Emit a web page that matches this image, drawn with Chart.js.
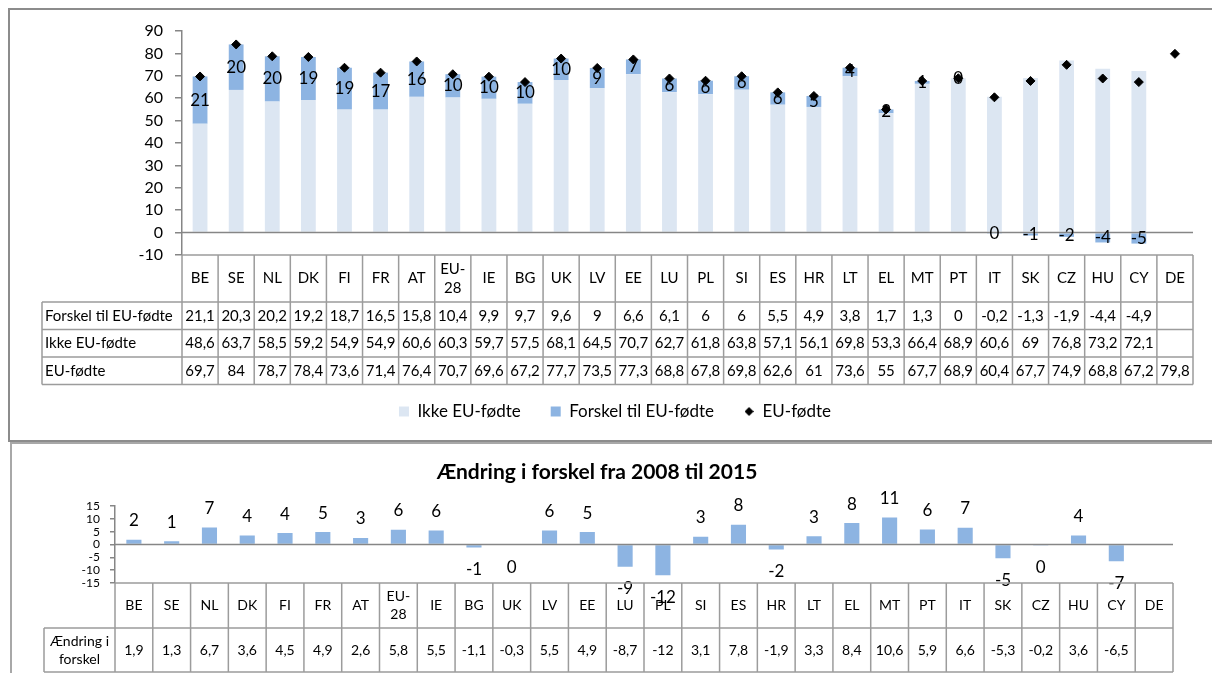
<!DOCTYPE html>
<html lang="da">
<head>
<meta charset="utf-8">
<title>EU-fødte og ikke EU-fødte</title>
<script src="https://cdn.jsdelivr.net/npm/chart.js@4.4.1/dist/chart.umd.min.js"></script>
<style>
  html, body { margin: 0; padding: 0; background: #fff; overflow: hidden; }
  body { width: 1212px; height: 673px; position: relative; }
  .panel { position: absolute; box-sizing: border-box; }
  #panel1 { left: 8px; top: 8px; width: 1220px; height: 434px; border: 2px solid #8c8c8c; }
  #panel2 { left: 10px; top: 442px; width: 1220px; height: 260px; border: 2px solid #a8a8a8; }
  .wrap { position: absolute; left: 0; width: 1212px; }
  #wrap1 { top: 0; height: 441px; }
  #wrap2 { top: 441px; height: 232px; }
</style>
</head>
<body>
<div class="panel" id="panel1"></div>
<div class="panel" id="panel2"></div>
<div class="wrap" id="wrap1"><canvas id="topChart"></canvas></div>
<div class="wrap" id="wrap2"><canvas id="bundChart"></canvas></div>

<script>
// data
const categories = ['BE', 'SE', 'NL', 'DK', 'FI', 'FR', 'AT', 'EU-28', 'IE', 'BG', 'UK', 'LV', 'EE', 'LU',
  'PL', 'SI', 'ES', 'HR', 'LT', 'EL', 'MT', 'PT', 'IT', 'SK', 'CZ', 'HU', 'CY', 'DE'];
const forskel = [21.1, 20.3, 20.2, 19.2, 18.7, 16.5, 15.8, 10.4, 9.9, 9.7, 9.6, 9, 6.6, 6.1,
  6, 6, 5.5, 4.9, 3.8, 1.7, 1.3, 0, -0.2, -1.3, -1.9, -4.4, -4.9, null];
const ikkeEU = [48.6, 63.7, 58.5, 59.2, 54.9, 54.9, 60.6, 60.3, 59.7, 57.5, 68.1, 64.5, 70.7, 62.7,
  61.8, 63.8, 57.1, 56.1, 69.8, 53.3, 66.4, 68.9, 60.6, 69, 76.8, 73.2, 72.1, null];
const euFodte = [69.7, 84, 78.7, 78.4, 73.6, 71.4, 76.4, 70.7, 69.6, 67.2, 77.7, 73.5, 77.3, 68.8,
  67.8, 69.8, 62.6, 61, 73.6, 55, 67.7, 68.9, 60.4, 67.7, 74.9, 68.8, 67.2, 79.8];
const aendring = [1.9, 1.3, 6.7, 3.6, 4.5, 4.9, 2.6, 5.8, 5.5, -1.1, -0.3, 5.5, 4.9, -8.7,
  -12, 3.1, 7.8, -1.9, 3.3, 8.4, 10.6, 5.9, 6.6, -5.3, -0.2, 3.6, -6.5, null];
// etiketterne som de står på søjlerne (afrundet af de uafrundede tal)
const aendringEtiket = [2, 1, 7, 4, 4, 5, 3, 6, 6, -1, 0, 6, 5, -9,
  -12, 3, 8, -2, 3, 8, 11, 6, 7, -5, 0, 4, -7, null];
const topTicks = [-10, 0, 10, 20, 30, 40, 50, 60, 70, 80, 90];
const bundTicks = [-15, -10, -5, 0, 5, 10, 15];

const lysBlaa = '#dce6f2';
const blaa = '#8db4e2';
const akseGraa = '#868686';
const tabelGraa = '#9c9c9c';

Chart.defaults.font.family = 'Lato, "Open Sans", sans-serif';
Chart.defaults.color = '#000';

// excel-agtig afrunding (halve væk fra nul)
function rund(v) {
  const r = Math.sign(v) * Math.round(Math.abs(v));
  return r === 0 ? '0' : String(r);
}
function komma(v) {
  return v === null ? '' : String(v).replace('.', ',');
}
function splitLabel(s) {
  const i = s.indexOf('-');
  return i > 0 ? [s.slice(0, i + 1), s.slice(i + 1)] : [s];
}

// datatabel under akserne
function drawTable(chart, rows, o) {
  const ctx = chart.ctx;
  const x = chart.scales.x;
  const area = chart.chartArea;
  const n = categories.length;
  const half = (x.getPixelForValue(1) - x.getPixelForValue(0)) / 2;
  const top = area.bottom;
  const headBottom = top + o.headH;
  const bottom = headBottom + rows.length * o.rowH;

  ctx.save();
  ctx.strokeStyle = tabelGraa;
  ctx.lineWidth = 1.5;
  ctx.beginPath();
  ctx.moveTo(area.left, top);
  ctx.lineTo(area.right, top);
  for (let r = 0; r <= rows.length; r++) {
    const y = headBottom + r * o.rowH;
    ctx.moveTo(o.labelLeft, y);
    ctx.lineTo(area.right, y);
  }
  for (let i = 0; i <= n; i++) {
    const xx = i < n ? x.getPixelForValue(i) - half : x.getPixelForValue(n - 1) + half;
    ctx.moveTo(xx, top);
    ctx.lineTo(xx, bottom);
  }
  ctx.moveTo(o.labelLeft, headBottom);
  ctx.lineTo(o.labelLeft, bottom);
  ctx.stroke();

  ctx.fillStyle = '#000';
  ctx.font = o.font;
  ctx.textBaseline = 'middle';
  ctx.textAlign = 'center';
  categories.forEach((c, i) => {
    const lines = splitLabel(c);
    const cy = top + o.headH / 2;
    lines.forEach((t, k) => {
      ctx.fillText(t, x.getPixelForValue(i), cy + (k - (lines.length - 1) / 2) * o.lineH);
    });
  });
  rows.forEach((row, r) => {
    const cy = headBottom + (r + 0.5) * o.rowH;
    row.values.forEach((v, i) => ctx.fillText(komma(v), x.getPixelForValue(i), cy));
    if (o.labelAlign === 'left') {
      ctx.textAlign = 'left';
      ctx.fillText(row.label[0], o.labelLeft + 3, cy);
      ctx.textAlign = 'center';
    } else {
      const lx = (o.labelLeft + area.left) / 2;
      row.label.forEach((t, k) => {
        ctx.fillText(t, lx, cy + (k - (row.label.length - 1) / 2) * o.lineH);
      });
    }
  });
  ctx.restore();
}

function zeroLine(chart) {
  const ctx = chart.ctx;
  const y0 = chart.scales.y.getPixelForValue(0);
  ctx.save();
  ctx.strokeStyle = akseGraa;
  ctx.lineWidth = 1.5;
  ctx.beginPath();
  ctx.moveTo(chart.chartArea.left, y0);
  ctx.lineTo(chart.chartArea.right, y0);
  ctx.stroke();
  ctx.restore();
}

const topPlugin = {
  id: 'topTabel',
  beforeDatasetDraw(chart, args) {
    if (args.index !== 2) return;
    zeroLine(chart);
    // afrundede værdier midt i forskel-søjlerne
    const ctx = chart.ctx;
    const meta = chart.getDatasetMeta(1);
    ctx.save();
    ctx.font = '17px Lato';
    ctx.fillStyle = '#000';
    ctx.textAlign = 'center';
    ctx.textBaseline = 'middle';
    meta.data.forEach((bar, i) => {
      if (forskel[i] === null) return;
      ctx.fillText(rund(forskel[i]), bar.x, (bar.y + bar.base) / 2);
    });
    ctx.restore();
  },
  afterDraw(chart) {
    drawTable(chart, [
      { label: ['Forskel til EU-fødte'], values: forskel },
      { label: ['Ikke EU-fødte'], values: ikkeEU },
      { label: ['EU-fødte'], values: euFodte }
    ], { headH: 47, rowH: 27.5, lineH: 18.5, labelLeft: 42, labelAlign: 'left', font: '15px Lato' });
  }
};

const bundPlugin = {
  id: 'bundTabel',
  afterDatasetsDraw(chart) {
    zeroLine(chart);
    const ctx = chart.ctx;
    const meta = chart.getDatasetMeta(0);
    ctx.save();
    ctx.font = '17px Lato';
    ctx.fillStyle = '#000';
    ctx.textAlign = 'center';
    ctx.textBaseline = 'middle';
    meta.data.forEach((bar, i) => {
      const v = aendring[i];
      if (v === null) return;
      ctx.fillText(String(aendringEtiket[i]), bar.x, v >= 0 ? bar.y - 19 : bar.y + 22);
    });
    ctx.restore();
  },
  afterDraw(chart) {
    drawTable(chart, [
      { label: ['Ændring i', 'forskel'], values: aendring }
    ], { headH: 45, rowH: 44, lineH: 18, labelLeft: 44, labelAlign: 'center', font: '14px Lato' });
  }
};

// lille ruder til forklaringen
const rude = document.createElement('canvas');
rude.width = 9;
rude.height = 9;
const rctx = rude.getContext('2d');
rctx.beginPath();
rctx.moveTo(4.5, 0);
rctx.lineTo(9, 4.5);
rctx.lineTo(4.5, 9);
rctx.lineTo(0, 4.5);
rctx.closePath();
rctx.fill();

new Chart(document.getElementById('topChart'), {
  type: 'bar',
  data: {
    labels: categories,
    datasets: [{
      label: 'Ikke EU-fødte',
      data: ikkeEU,
      backgroundColor: lysBlaa,
      pointStyle: 'rect',
      stack: 's',
      order: 1,
      barPercentage: 0.41,
      categoryPercentage: 1
    }, {
      label: 'Forskel til EU-fødte',
      data: forskel,
      backgroundColor: blaa,
      pointStyle: 'rect',
      stack: 's',
      order: 1,
      barPercentage: 0.41,
      categoryPercentage: 1
    }, {
      type: 'line',
      label: 'EU-fødte',
      data: euFodte,
      showLine: false,
      pointStyle: 'rectRot',
      pointRadius: 4.5,
      pointBorderWidth: 1,
      pointBackgroundColor: '#000',
      pointBorderColor: '#000',
      backgroundColor: '#000',
      borderColor: '#000',
      stack: 'p',
      order: 0
    }]
  },
  options: {
    responsive: true,
    maintainAspectRatio: false,
    animation: false,
    events: [],
    layout: { padding: { left: 37, right: 19, top: 31, bottom: 11 } },
    scales: {
      x: {
        stacked: true,
        ticks: { display: false },
        grid: { display: false },
        border: { display: false },
        afterFit(s) { s.height = 118; }
      },
      y: {
        stacked: true,
        min: topTicks[0],
        max: topTicks[topTicks.length - 1],
        ticks: { stepSize: topTicks[1] - topTicks[0], padding: 12, font: { size: 16 }, color: '#000' },
        grid: { drawOnChartArea: false, tickLength: 7, color: akseGraa, lineWidth: 1.5 },
        border: { color: akseGraa, width: 1.5 },
        afterFit(s) { s.width = 145; }
      }
    },
    plugins: {
      legend: {
        position: 'bottom',
        labels: {
          usePointStyle: true,
          boxWidth: 10,
          boxHeight: 10,
          padding: 30,
          font: { size: 17 },
          color: '#000',
          generateLabels(chart) {
            const items = Chart.defaults.plugins.legend.labels.generateLabels(chart);
            items.forEach(it => { if (it.datasetIndex === 2) it.pointStyle = rude; });
            return items;
          },
          sort: (a, b) => a.datasetIndex - b.datasetIndex
        }
      },
      tooltip: { enabled: false }
    }
  },
  plugins: [topPlugin]
});

new Chart(document.getElementById('bundChart'), {
  type: 'bar',
  data: {
    labels: categories,
    datasets: [{
      label: 'Ændring i forskel',
      data: aendring,
      backgroundColor: blaa,
      barPercentage: 0.40,
      categoryPercentage: 1
    }]
  },
  options: {
    responsive: true,
    maintainAspectRatio: false,
    animation: false,
    events: [],
    layout: { padding: { left: 21, right: 39, top: 0, bottom: 0 } },
    scales: {
      x: {
        ticks: { display: false },
        grid: { display: false },
        border: { display: false },
        afterFit(s) { s.height = 90; }
      },
      y: {
        min: bundTicks[0],
        max: bundTicks[bundTicks.length - 1],
        ticks: { stepSize: bundTicks[1] - bundTicks[0], autoSkip: false, padding: 10, font: { size: 12 }, color: '#000' },
        grid: { drawOnChartArea: false, tickLength: 5, color: akseGraa, lineWidth: 1.5 },
        border: { color: akseGraa, width: 1.5 },
        afterFit(s) { s.width = 94; }
      }
    },
    plugins: {
      legend: { display: false },
      title: {
        display: true,
        text: 'Ændring i forskel fra 2008 til 2015',
        font: { size: 21, weight: 'bold' },
        color: '#000',
        padding: { top: 19, bottom: 21 }
      },
      tooltip: { enabled: false }
    }
  },
  plugins: [bundPlugin]
});
</script>
</body>
</html>
